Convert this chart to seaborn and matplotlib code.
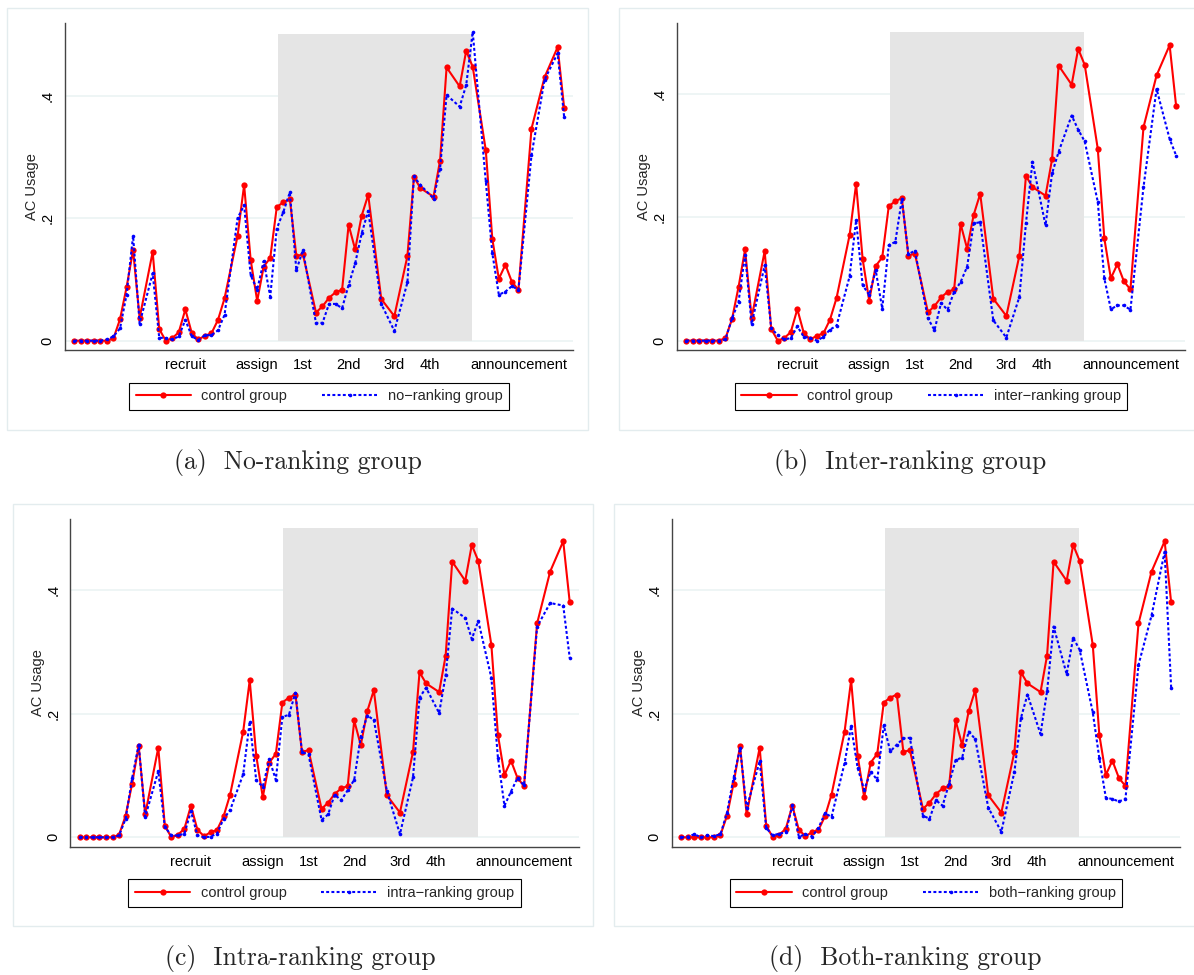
"""AC usage over the experiment: control vs. each treatment group."""
import matplotlib
matplotlib.use('Agg')
import matplotlib.pyplot as plt
from matplotlib.patches import Rectangle
import seaborn as sns
import pandas as pd

# day index of each observation
day = [0, 1, 2, 3, 4, 5, 6, 7, 8, 9, 10, 12, 13, 14, 15, 16, 17, 18, 19, 20,
       21, 22, 23, 25, 26, 27, 28, 29, 30, 31, 32, 33, 34, 35, 37, 38, 39, 40,
       41, 42, 43, 44, 45, 47, 49, 51, 52, 53, 55, 56, 57, 59, 60, 61, 63, 64,
       65, 66, 67, 68, 70, 72, 74, 75]

control = [0, 0, 0, 0, 0, 0, 0.004, 0.035, 0.087, 0.148, 0.037, 0.145, 0.019,
           0.0, 0.004, 0.014, 0.051, 0.012, 0.002, 0.008, 0.012, 0.034, 0.069,
           0.171, 0.254, 0.132, 0.065, 0.121, 0.135, 0.218, 0.226, 0.231,
           0.138, 0.141, 0.046, 0.056, 0.070, 0.079, 0.083, 0.189, 0.149,
           0.204, 0.238, 0.068, 0.040, 0.138, 0.267, 0.249, 0.235, 0.294,
           0.446, 0.415, 0.473, 0.447, 0.311, 0.166, 0.101, 0.124, 0.096,
           0.083, 0.346, 0.430, 0.479, 0.380]

no_ranking = [0, 0, 0, 0, 0, 0.002, 0.007, 0.02, 0.075, 0.171, 0.028, 0.11,
              0.005, 0.004, 0.002, 0.007, 0.034, 0.007, 0.001, 0.009, 0.009,
              0.017, 0.042, 0.2, 0.221, 0.107, 0.083, 0.13, 0.072, 0.183,
              0.21, 0.242, 0.115, 0.148, 0.029, 0.029, 0.06, 0.06, 0.053,
              0.091, 0.126, 0.175, 0.212, 0.06, 0.016, 0.095, 0.268, 0.254,
              0.232, 0.281, 0.401, 0.382, 0.417, 0.504, 0.26, 0.143, 0.075,
              0.08, 0.089, 0.083, 0.303, 0.426, 0.469, 0.365]

inter_ranking = [0, 0, 0, 0, 0, 0, 0.002, 0.036, 0.063, 0.139, 0.027, 0.122,
                 0.02, 0.009, 0.002, 0.004, 0.023, 0.006, 0.004, 0.0, 0.006,
                 0.018, 0.024, 0.104, 0.195, 0.09, 0.074, 0.114, 0.052, 0.155,
                 0.16, 0.229, 0.14, 0.146, 0.036, 0.017, 0.061, 0.05, 0.079,
                 0.095, 0.12, 0.19, 0.192, 0.033, 0.005, 0.071, 0.19, 0.29,
                 0.187, 0.271, 0.306, 0.365, 0.342, 0.323, 0.225, 0.101,
                 0.051, 0.057, 0.057, 0.05, 0.249, 0.408, 0.327, 0.3]

intra_ranking = [0, 0, 0, 0, 0, 0, 0.003, 0.03, 0.096, 0.15, 0.033, 0.107,
                 0.017, 0.003, 0.003, 0.006, 0.042, 0.003, 0.0, 0.001, 0.006,
                 0.03, 0.044, 0.102, 0.187, 0.092, 0.082, 0.126, 0.093, 0.195,
                 0.198, 0.234, 0.138, 0.134, 0.028, 0.037, 0.069, 0.06, 0.076,
                 0.093, 0.163, 0.197, 0.19, 0.075, 0.005, 0.097, 0.226, 0.242,
                 0.201, 0.262, 0.37, 0.355, 0.321, 0.35, 0.258, 0.129, 0.051,
                 0.074, 0.096, 0.084, 0.341, 0.379, 0.375, 0.29]

both_ranking = [0, 0.001, 0.005, 0, 0.003, 0.002, 0.005, 0.04, 0.096, 0.144,
                0.047, 0.123, 0.015, 0.003, 0.006, 0.008, 0.052, 0.001, 0.005,
                0.001, 0.015, 0.039, 0.033, 0.12, 0.18, 0.112, 0.077, 0.106,
                0.093, 0.181, 0.139, 0.15, 0.16, 0.161, 0.035, 0.03, 0.06,
                0.051, 0.087, 0.125, 0.129, 0.171, 0.159, 0.048, 0.009, 0.106,
                0.193, 0.231, 0.167, 0.236, 0.341, 0.264, 0.323, 0.303, 0.202,
                0.128, 0.064, 0.062, 0.058, 0.062, 0.279, 0.359, 0.462, 0.242]

event_days = [17, 28, 35, 42, 49, 54.5, 68]
event_names = ['recruit', 'assign', '1st', '2nd', '3rd', '4th', 'announcement']
ranking_period = (31.15, 60.9)
ranking_top = 0.5

W, H = 1194, 975
sns.set_style('white')
plt.rcParams['font.family'] = ['Liberation Sans', 'DejaVu Sans']

fig = plt.figure(figsize=(W / 100, H / 100), dpi=100)


def px_rect(x0, y0, x1, y1):
    """Pixel box (top-left origin) -> figure fraction [l, b, w, h]."""
    return [x0 / W, 1 - y1 / H, (x1 - x0) / W, (y1 - y0) / H]


def panel(treat, treat_label, caption, ax_box, frame_box, cap_xy, ytop):
    frame = Rectangle(px_rect(*frame_box)[:2], *px_rect(*frame_box)[2:],
                      transform=fig.transFigure, fill=False,
                      edgecolor='#e3ecee', lw=1.0)
    fig.add_artist(frame)

    ax = fig.add_axes(px_rect(*ax_box))
    df = pd.DataFrame({'day': day, 'control': control, 'treat': treat})

    ax.fill_between(list(ranking_period), 0, ranking_top, color='#e5e5e5',
                    lw=0, zorder=1)
    for yv in [0, 0.2, 0.4]:
        ax.axhline(yv, color='#eaf2f3', lw=1.1, zorder=0.5)

    sns.lineplot(data=df, x='day', y='control', ax=ax, color='#ff0000',
                 lw=1.5, marker='o', markersize=4.5, markeredgewidth=0,
                 label='control group', estimator=None, sort=False, zorder=3)
    sns.lineplot(data=df, x='day', y='treat', ax=ax, color='#0000ff',
                 lw=1.5, linestyle=(0, (1.4, 1.1)), marker='o',
                 markersize=2.6, markeredgewidth=0, label=treat_label,
                 estimator=None, sort=False, zorder=4)

    ax.set_xlim(-1.47, 76.4)
    ax.set_ylim(-0.0152, ytop)
    ax.set_xticks(event_days)
    ax.set_xticklabels(event_names)
    ax.set_yticks([0, 0.2, 0.4])
    ax.set_yticklabels(['0', '.2', '.4'], rotation=90, va='center')
    ax.tick_params(axis='both', length=4.3, width=0.8, color='#333333',
                   labelsize=10.5, labelcolor='black')
    ax.tick_params(axis='x', pad=1.5)
    ax.tick_params(axis='y', pad=3)
    ax.set_xlabel('')
    ax.set_ylabel('AC Usage', fontsize=10.5, labelpad=1)
    for side in ['top', 'right']:
        ax.spines[side].set_visible(False)
    for side in ['left', 'bottom']:
        ax.spines[side].set_color('#444444')
        ax.spines[side].set_linewidth(1.0)
    ax.grid(False)

    h, l = ax.get_legend_handles_labels()
    axh = ax_box[3] - ax_box[1]
    leg = ax.legend(h, l, loc='upper center', ncol=2,
                    bbox_to_anchor=(0.5, -32.7 / axh), fontsize=10.5,
                    frameon=True, fancybox=False, framealpha=1,
                    edgecolor='black', borderpad=0.45, handlelength=3.8,
                    handletextpad=0.7, columnspacing=2.4, numpoints=1,
                    borderaxespad=0)
    leg.get_frame().set_linewidth(0.8)

    fig.text(cap_xy[0] / W, 1 - cap_xy[1] / H, caption, family='cmr10',
             fontsize=18.5, ha='center', va='center')


panel(no_ranking, 'no\u2212ranking group', '(a)  No-ranking group',
      (64.7, 23.3, 573.3, 350), (7.3, 8.3, 588.3, 430), (298, 463), 0.518)
panel(inter_ranking, 'inter\u2212ranking group', '(b)  Inter-ranking group',
      (676.7, 23.3, 1185.3, 350), (619.3, 8.3, 1200, 430), (910, 463), 0.5145)
panel(intra_ranking, 'intra\u2212ranking group', '(c)  Intra-ranking group',
      (70.3, 519.3, 578.9, 846.7), (12.9, 504.3, 593.3, 926), (300, 958),
      0.5145)
panel(both_ranking, 'both\u2212ranking group', '(d)  Both-ranking group',
      (671.7, 519.3, 1180.3, 846.7), (614.3, 504.3, 1195, 926), (905, 958),
      0.5145)

fig.savefig('out.png', dpi=100)
